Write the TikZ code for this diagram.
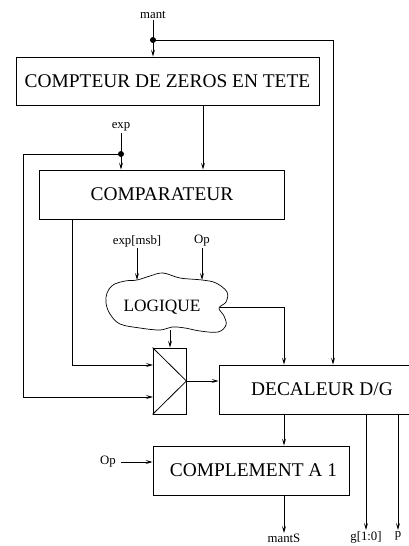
\documentclass[tikz,border=0pt]{standalone}
\usepackage{fontspec}
\setmainfont{Liberation Serif}
\usetikzlibrary{arrows.meta,calc}
\begin{document}
\begin{tikzpicture}[x=1pt,y=-1pt,line width=0.8pt,
  arr/.style={-{Stealth[length=7pt,width=4pt,inset=3pt]}},
  bigbox/.style={draw,rectangle,inner sep=0pt,font=\fontsize{19.4}{22}\selectfont},
  lbl/.style={inner sep=1pt,font=\fontsize{12.8}{14}\selectfont},
  dotc/.style={circle,fill,inner sep=0pt,minimum size=6pt}]
\useasboundingbox (0,0) rectangle (409,546);
% boxes
\node[bigbox,minimum width=303pt,minimum height=48pt] (cz) at (167.5,81) {COMPTEUR DE ZEROS EN TETE};
\node[bigbox,minimum width=244.5pt,minimum height=49pt] (comp) at (162,194.5) {COMPARATEUR};
\node[bigbox,minimum width=206pt,minimum height=49pt] (dec) at (322,389.5) {DECALEUR D/G};
\node[bigbox,minimum width=196pt,minimum height=49pt] (cpl) at (251,470.5) {\hspace{5pt}COMPLEMENT A 1};
\node[draw,rectangle,inner sep=0pt,minimum width=33pt,minimum height=66pt] (mux) at (169.5,381) {};
\draw (mux.north west) -- (mux.east) -- (mux.south west);
% cloud
\draw[line width=0.7pt] plot[smooth cycle,tension=0.6] coordinates {
 (113,285) (125,281) (137,280) (150,276) (163,273) (180,278) (202,280)
 (216,283) (227,292) (226,302) (219,308) (224,316) (226,325) (218,332)
 (200,331) (185,328) (172,327) (160,330) (140,328) (120,324) (110,314) (106,303) (107,293)};
\node[font=\fontsize{17.3}{19}\selectfont,inner sep=0pt] (logic) at (162,307) {LOGIQUE};
\coordinate (ct1) at (137,280);
\coordinate (ct2) at (202,280);
\coordinate (cr) at (220,307);
\coordinate (cb) at (170,330);
% labels
\node[lbl] (mant) at (153,15) {mant};
\node[lbl] (exp) at (121,127) {exp};
\node[lbl] (msb) at (137,241) {exp[msb]};
\node[lbl] (op1) at (202,241) {Op};
\node[lbl] (op2) at (108,462) {Op};
\node[lbl,anchor=north] (mantS) at (284,533) {mantS};
\node[lbl,anchor=north] (g) at (366,530) {g[1:0]};
\node[lbl,anchor=north] (p) at (398,530) {p};
% junctions and helper coordinates
\node[dotc] (d1) at (153,40) {};
\node[dotc] (d2) at (121,154) {};
\coordinate (xR) at (333,0);
\coordinate (xA) at (284,0);
\coordinate (x203) at (203,0);
\coordinate (x72) at (72,0);
\coordinate (xL) at (23,0);
\coordinate (mi1) at (153,365);
\coordinate (mi2) at (153,397);
% connectors
\draw[arr] (mant.south) -- (cz.north -| mant);
\draw[arr] (d1.center) -| (dec.north -| xR);
\draw[arr] (cz.south -| x203) -- (comp.north -| x203);
\draw[arr] (exp.south) -- (comp.north -| exp);
\draw[arr] (d2.center) -- (d2 -| xL) |- (mi2);
\draw[arr] (comp.south -| x72) |- (mi1);
\draw[arr] (msb.south) -- (ct1);
\draw[arr] (op1.south) -- (ct2);
\draw[arr] (cr) -| (dec.north -| xA);
\draw[arr] (cb) -- (mux.north -| cb);
\draw[arr] (mux.east) -- (mux.east -| dec.west);
\draw[arr] (dec.south -| xA) -- (cpl.north -| xA);
\draw[arr] (op2.east) ++(4,0) coordinate (op2s) (op2s) -- (op2s -| cpl.west);
\draw[arr] (cpl.south -| xA) -- (mantS.north);
\draw[arr] (dec.south -| g) -- (g.north);
\draw[arr] (dec.south -| p) -- (p.north);
\end{tikzpicture}
\end{document}
